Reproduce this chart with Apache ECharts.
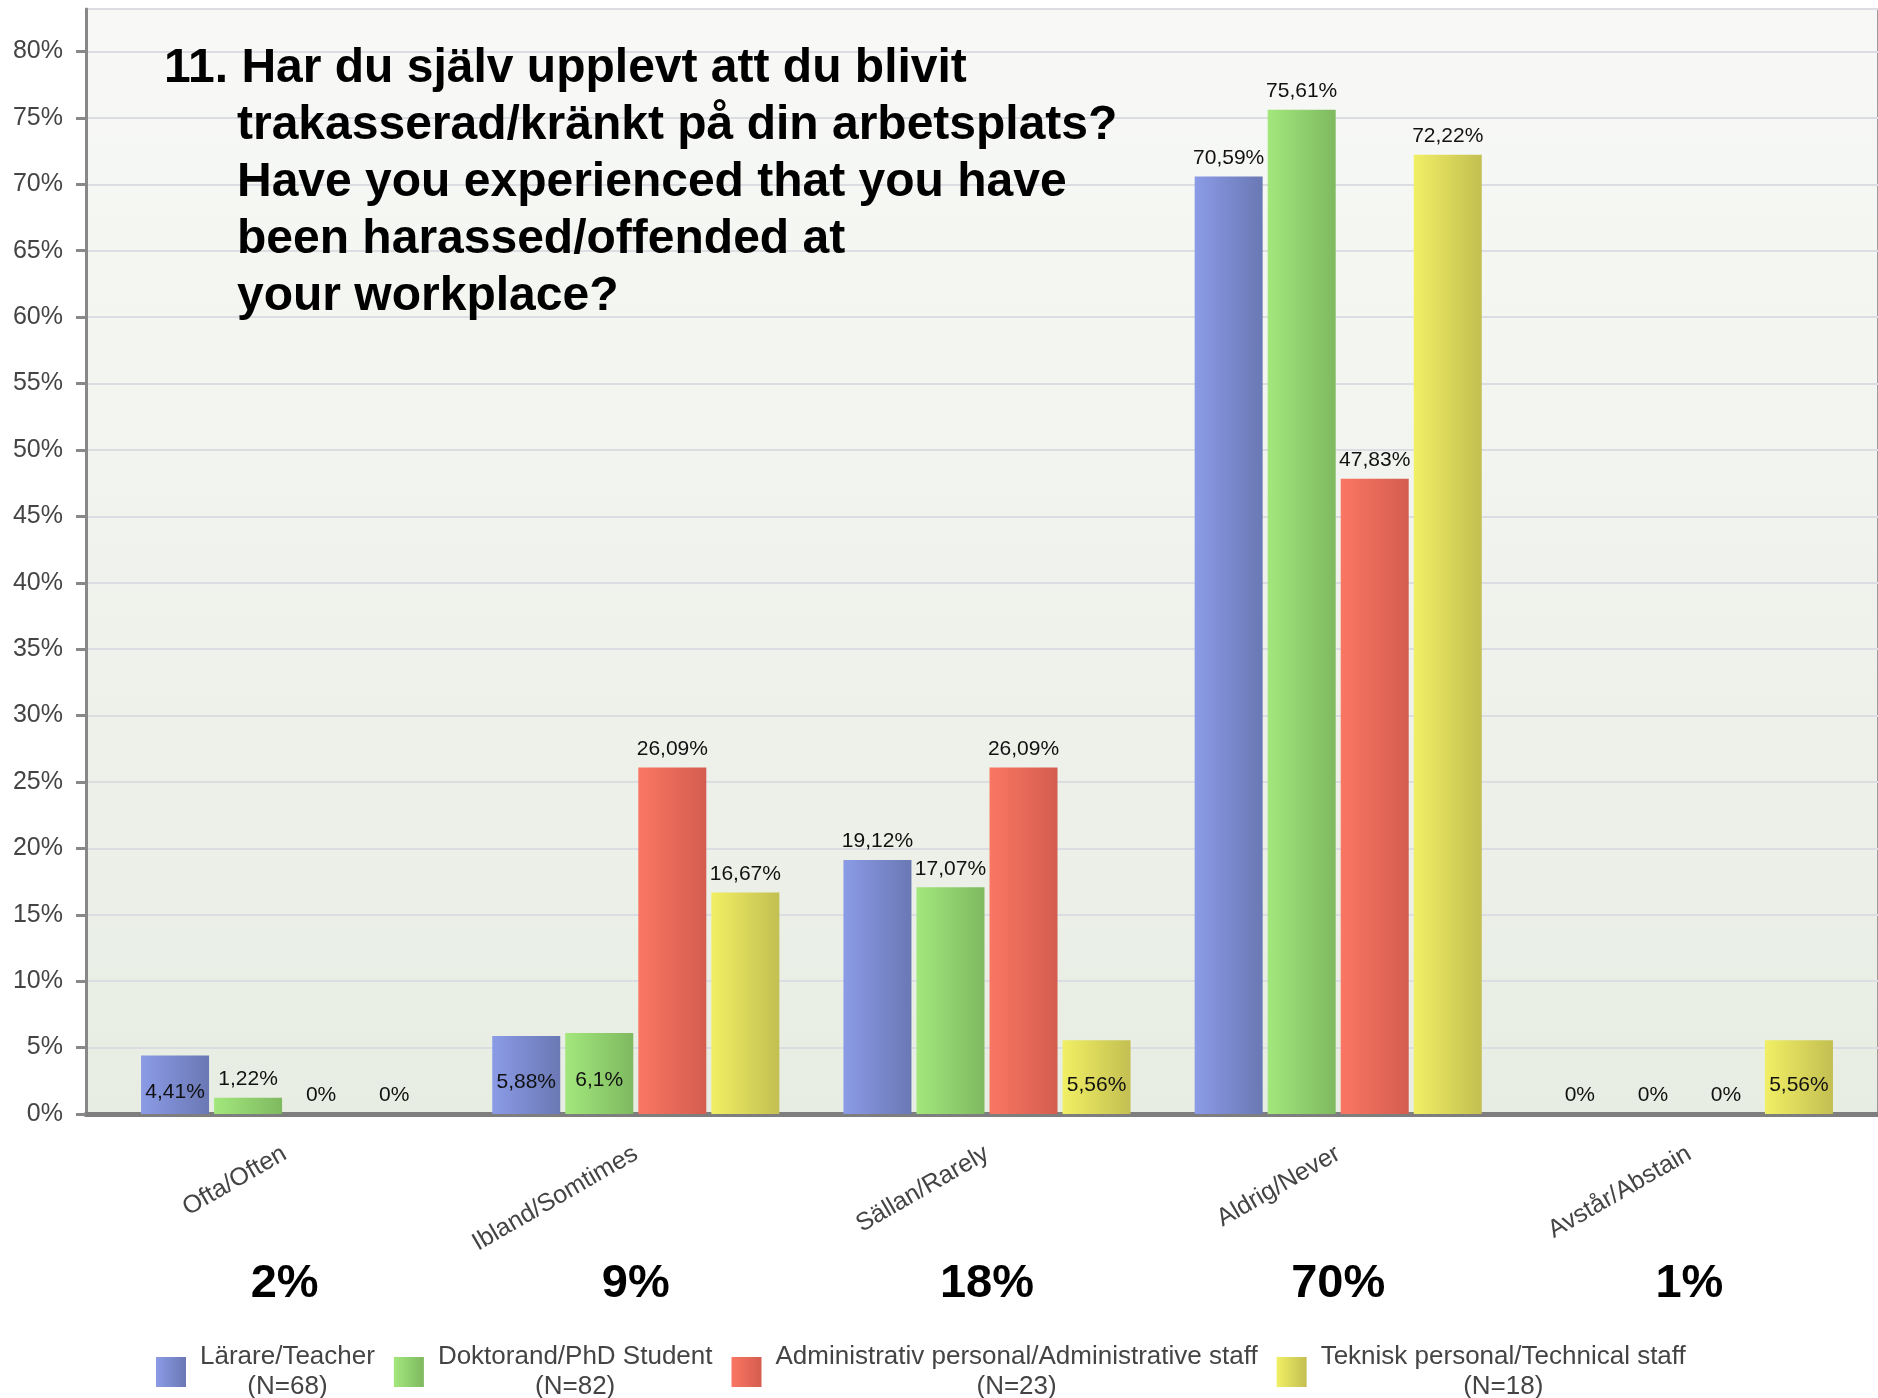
<!DOCTYPE html>
<html>
<head>
<meta charset="utf-8">
<title>Trakasserier på arbetsplatsen</title>
<script src="https://cdn.jsdelivr.net/npm/echarts@6/dist/echarts.min.js"></script>
<style>
  html, body { margin: 0; padding: 0; background: #fff; }
  #chart { width: 1878px; height: 1398px; }
</style>
</head>
<body>
<div id="chart"></div>
<script>
// answer categories
const categories = ['Ofta/Often', 'Ibland/Somtimes', 'Sällan/Rarely', 'Aldrig/Never', 'Avstår/Abstain']
// overall share per answer
const totals = [2, 9, 18, 70, 1]

const groupNames = [
  'Lärare/Teacher',
  'Doktorand/PhD Student',
  'Administrativ personal/Administrative staff',
  'Teknisk personal/Technical staff',
]
const groupN = [68, 82, 23, 18]

// percent per group, in category order
const teacher = [4.41, 5.88, 19.12, 70.59, 0]
const phd = [1.22, 6.1, 17.07, 75.61, 0]
const admin = [0, 26.09, 26.09, 47.83, 0]
const technical = [0, 16.67, 5.56, 72.22, 5.56]
const groupValues = [teacher, phd, admin, technical]

const yTicks = [0, 5, 10, 15, 20, 25, 30, 35, 40, 45, 50, 55, 60, 65, 70, 75, 80]
const yMax = 83.2

const colors = [
  ['#8b9be6', '#6a78b4'],
  ['#a2e77c', '#7fb960'],
  ['#fa7663', '#d45d4f'],
  ['#f1ef64', '#c3bf52'],
]

// labels that sit inside the bar instead of above it ("series-category": distance)
const insideLabels = { '0-0': 11, '0-1': 21, '1-1': 23, '3-2': 18, '3-4': 18 }

const fmt = (v) => String(v).replace('.', ',') + '%'

const chart = echarts.init(document.getElementById('chart'))

const series = groupValues.map((vals, s) => ({
  name: groupNames[s],
  type: 'bar',
  xAxisIndex: 0,
  yAxisIndex: 0,
  barWidth: 68,
  barGap: '7.4%',
  itemStyle: {
    color: new echarts.graphic.LinearGradient(0, 0, 1, 0, [
      { offset: 0, color: colors[s][0] },
      { offset: 1, color: colors[s][1] },
    ]),
  },
  label: {
    show: true,
    position: 'top',
    distance: 8,
    fontSize: 21,
    color: '#111',
    formatter: (p) => fmt(p.value),
  },
  data: vals.map((v, c) => {
    const d = insideLabels[s + '-' + c]
    if (d === undefined) return v
    return { value: v, label: { position: 'insideBottom', distance: d } }
  }),
}))

const option = {
  animation: false,
  textStyle: { fontFamily: 'Liberation Sans, Arial, sans-serif' },
  title: {
    left: 164,
    top: 40,
    padding: 0,
    text:
      '{a|11. Har du själv upplevt att du blivit}\n' +
      '{b|trakasserad/kränkt på din arbetsplats?}\n' +
      '{b|Have you experienced that you have}\n' +
      '{b|been harassed/offended at}\n' +
      '{b|your workplace?}',
    textStyle: {
      rich: {
        a: { fontSize: 48, fontWeight: 'bold', lineHeight: 57, color: '#000' },
        b: { fontSize: 48, fontWeight: 'bold', lineHeight: 57, color: '#000', padding: [0, 0, 0, 73] },
      },
    },
  },
  legend: {
    left: 156,
    top: 1344,
    padding: 0,
    itemWidth: 30,
    itemHeight: 30,
    itemGap: 19,
    icon: 'rect',
    data: groupNames,
    formatter: (name) => {
      const i = groupNames.indexOf(name)
      return '{t|' + name + '}\n{t|(N=' + groupN[i] + ')}'
    },
    textStyle: {
      fontSize: 26,
      color: '#444',
      padding: [0, 0, 0, 9],
      rich: { t: { fontSize: 26, color: '#444', align: 'center', lineHeight: 30 } },
    },
  },
  grid: [
    { left: 109, right: 13, top: 9, bottom: 284 },
    {
      left: 86, right: -4, top: 9, bottom: 284,
      show: true,
      borderColor: '#9a9a9a',
      borderWidth: 2,
      backgroundColor: new echarts.graphic.LinearGradient(0, 0, 0, 1, [
        { offset: 0, color: '#f8f9f7' },
        { offset: 1, color: '#e8ede3' },
      ]),
    },
  ],
  xAxis: [
    {
      type: 'category',
      gridIndex: 0,
      position: 'bottom',
      data: categories,
      axisLine: { show: false },
      axisTick: { show: false },
      axisLabel: { rotate: 30, margin: 38, fontSize: 25, color: '#444', interval: 0 },
    },
    {
      type: 'category',
      gridIndex: 0,
      position: 'bottom',
      data: totals.map((t) => t + '%'),
      axisLine: { show: false },
      axisTick: { show: false },
      axisLabel: { margin: 147, fontSize: 47, fontWeight: 'bold', color: '#000', interval: 0 },
    },
    {
      type: 'value',
      gridIndex: 1,
      min: 0,
      max: 1,
      axisLine: { show: true, onZero: false, lineStyle: { color: '#7e7e7e', width: 5 } },
      axisTick: { show: false },
      axisLabel: { show: false },
      splitLine: { show: false },
    },
  ],
  yAxis: [
    {
      type: 'value',
      gridIndex: 0,
      min: 0,
      max: yMax,
      interval: 5,
      offset: 23,
      axisLine: { show: true, lineStyle: { color: '#888', width: 3 } },
      axisTick: { show: true, length: 10, customValues: yTicks, lineStyle: { color: '#888', width: 3 } },
      axisLabel: {
        fontSize: 25,
        color: '#444',
        margin: 23,
        customValues: yTicks,
        formatter: (v) => (yTicks.includes(v) ? v + '%' : ''),
      },
      splitLine: { show: false },
    },
    {
      type: 'value',
      gridIndex: 1,
      min: 0,
      max: yMax,
      interval: 5,
      axisLine: { show: false },
      axisTick: { show: false },
      axisLabel: { show: false },
      splitLine: { show: true, lineStyle: { color: '#dcdce3', width: 2 } },
    },
  ],
  series: series,
}

chart.setOption(option)
window.addEventListener('resize', () => chart.resize())
</script>
</body>
</html>
